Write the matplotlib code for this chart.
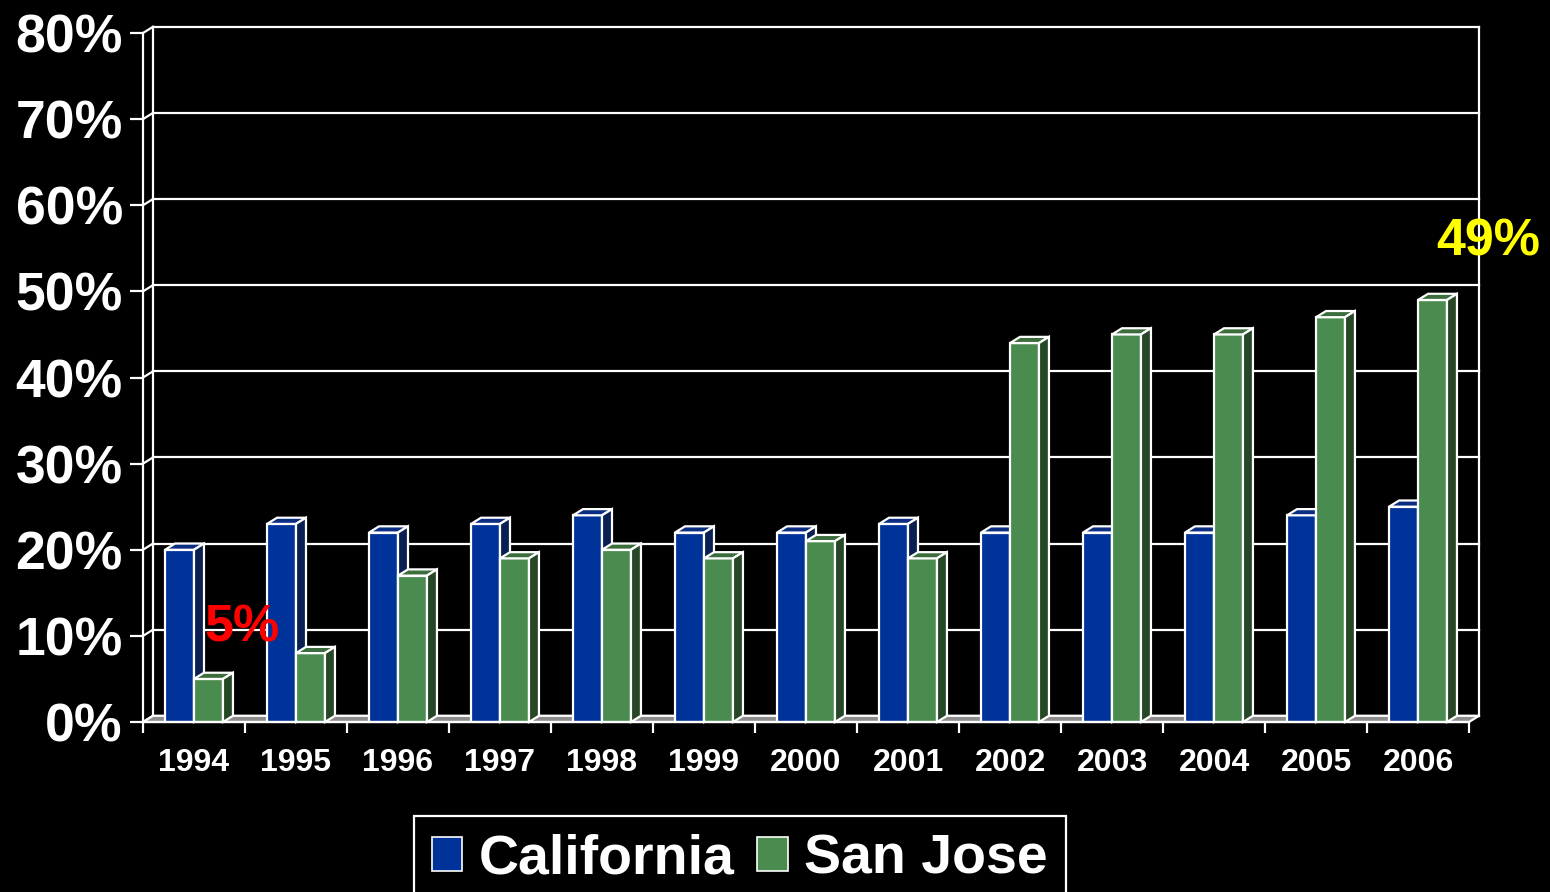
import matplotlib as mpl

mpl.use("Agg")
import matplotlib.pyplot as plt
from matplotlib.patches import Polygon, Patch
from matplotlib.ticker import FuncFormatter

plt.rcParams["font.family"] = ["Liberation Sans", "DejaVu Sans"]
plt.rcParams["font.weight"] = "bold"

YEARS = ["1994", "1995", "1996", "1997", "1998", "1999", "2000",
         "2001", "2002", "2003", "2004", "2005", "2006"]
CALIFORNIA = [20, 23, 22, 23, 24, 22, 22, 23, 22, 22, 22, 24, 25]
SAN_JOSE = [5, 8, 17, 19, 20, 19, 21, 19, 44, 45, 45, 47, 49]
Y_TICKS = [0, 10, 20, 30, 40, 50, 60, 70, 80]

# depth of the fake 3D walls / bars, in data units
DX = 0.098
DY = 0.72
BAR_W = 0.284
LW = 1.6

# (front, top, side) shades for each series
BLUE = ("#003399", "#0b2d82", "#0a1f52")
GREEN = ("#4a8b4f", "#3c6d3d", "#274827")


def bar3d(ax, x, h, shades, z):
    front, top, side = shades
    x0, x1 = x - BAR_W / 2, x + BAR_W / 2
    ax.bar(x, h, width=BAR_W, color=front, edgecolor="white",
           linewidth=LW, zorder=z)
    ax.add_patch(Polygon([(x0, h), (x1, h), (x1 + DX, h + DY), (x0 + DX, h + DY)],
                         closed=True, fc=top, ec="white", lw=LW, zorder=z,
                         clip_on=False))
    ax.add_patch(Polygon([(x1, 0), (x1 + DX, DY), (x1 + DX, h + DY), (x1, h)],
                         closed=True, fc=side, ec="white", lw=LW, zorder=z,
                         clip_on=False))


fig = plt.figure(figsize=(15.5, 8.92), dpi=100, facecolor="black")
ax = fig.add_axes([143 / 1550, 1 - 722 / 892, 1326 / 1550, 689 / 892])
ax.set_facecolor("black")
n = len(YEARS)
xl, xr = -0.5, n - 0.5
ax.set_xlim(xl, xr)
ax.set_ylim(0, 80)
for s in ax.spines.values():
    s.set_visible(False)

# back wall grid and left wall edges
line_kw = dict(color="white", lw=LW, clip_on=False, zorder=1)
for y in Y_TICKS:
    ax.plot([xl + DX, xr + DX], [y + DY, y + DY], **line_kw)
    ax.plot([xl, xl + DX], [y, y + DY], **line_kw)
ax.plot([xl, xl], [0, 80], **line_kw)
ax.plot([xl + DX, xl + DX], [DY, 80 + DY], **line_kw)
ax.plot([xr + DX, xr + DX], [DY, 80 + DY], **line_kw)

# floor
ax.add_patch(Polygon([(xl, 0), (xr, 0), (xr + DX, DY), (xl + DX, DY)],
                     closed=True, fc="#8c8c8c", ec="white", lw=LW,
                     zorder=2, clip_on=False))

for i in range(n):
    bar3d(ax, i - BAR_W / 2, CALIFORNIA[i], BLUE, 3)
    bar3d(ax, i + BAR_W / 2, SAN_JOSE[i], GREEN, 4)
ax.plot([xl, xr], [0, 0], color="white", lw=LW, zorder=5, clip_on=False)

ax.set_yticks(Y_TICKS)
ax.yaxis.set_major_formatter(FuncFormatter(lambda v, p: f"{v:.0f}%"))
ax.tick_params(axis="y", colors="white", length=9.5, width=LW, pad=5,
               labelsize=38.5)
ax.set_xticks(range(n))
ax.set_xticklabels(YEARS)
ax.set_xticks([i - 0.5 for i in range(n + 1)], minor=True)
ax.tick_params(axis="x", which="major", colors="white", length=0, pad=19,
               labelsize=23)
ax.tick_params(axis="x", which="minor", colors="white", length=8, width=LW)
for lab in ax.get_xticklabels() + ax.get_yticklabels():
    lab.set_fontweight("bold")

# value call-outs for first and last San Jose bars
ax.text(0 + 0.47, SAN_JOSE[0] + 5.9, f"{SAN_JOSE[0]}%", color="#ff0000",
        fontsize=37.5, fontweight="bold", ha="center", va="center", zorder=6)
ax.text(n - 1 + 0.686, SAN_JOSE[-1] + 6.7, f"{SAN_JOSE[-1]}%", color="#ffff00",
        fontsize=37.5, fontweight="bold", ha="center", va="center", zorder=6,
        clip_on=False)

handles = [Patch(fc=BLUE[0], ec="white", lw=1.2, label="California"),
           Patch(fc=GREEN[0], ec="white", lw=1.2, label="San Jose")]
leg = fig.legend(handles=handles, loc="upper center", ncol=2,
                 bbox_to_anchor=(740 / 1550, 1 - 816 / 892),
                 fontsize=40, frameon=True, fancybox=False, facecolor="black",
                 edgecolor="white", framealpha=1, handlelength=0.55,
                 handleheight=0.55, handletextpad=0.3, columnspacing=0.4,
                 borderpad=0.32, borderaxespad=0)
leg.get_frame().set_linewidth(LW)
for t in leg.get_texts():
    t.set_color("white")
    t.set_fontweight("bold")

fig.savefig("out.png", dpi=100, facecolor="black")
